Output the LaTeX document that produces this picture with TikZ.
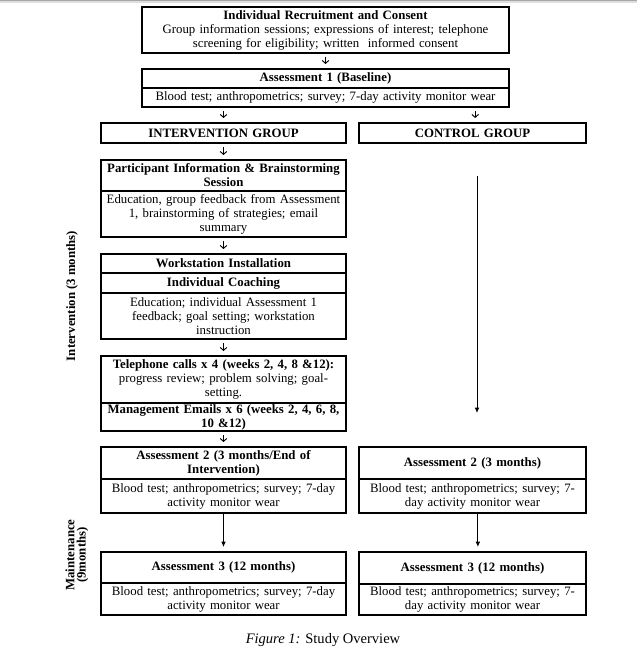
\documentclass[tikz,border=0pt]{standalone}
\usepackage{fontspec}
\setmainfont{Liberation Serif}
\usetikzlibrary{arrows.meta}
\newcommand\rbox[7]{\node[#6, minimum width={(#4-#2)*0.75pt}, minimum height={(#5-#3)*0.75pt}] (#1) at ({(#2+#4)/2},{(#3+#5)/2}) {#7};}
\begin{document}
\begin{tikzpicture}[x=0.75pt,y=-0.75pt,
  every node/.style={font=\fontsize{9.6}{10.5}\selectfont},
  rowbox/.style={draw, line width=1.5pt, inner sep=0pt, align=center},
  lcol/.style={rowbox, text width=182pt},
  rcol/.style={rowbox, text width=168pt},
  tcol/.style={rowbox, text width=272pt},
  smallarr/.style={-{Straight Barb[length=2.2pt,width=5pt]}, line width=0.7pt, shorten <=2.5pt, shorten >=3pt},
  solidarr/.style={-{Latex[length=4pt,width=3.5pt]}, line width=0.7pt, shorten >=3pt}]
\useasboundingbox (0,0) rectangle (637,655);
\fill[gray!70] (0,0) rectangle (637,1.5);
\fill[gray!25] (0,1.5) rectangle (637,3);

% top boxes
\rbox{rec}{142}{7}{509}{53}{tcol}{\textbf{Individual Recruitment and Consent}\\Group information sessions; expressions of interest; telephone\\screening for eligibility; written\ \ informed consent}
\rbox{a1t}{142}{69}{509}{88}{tcol}{\textbf{Assessment 1 (Baseline)}}
\rbox{a1b}{142}{88}{509}{107}{tcol}{Blood test; anthropometrics; survey; 7-day activity monitor wear}

% groups
\rbox{ig}{101}{123}{346}{143}{lcol}{\textbf{INTERVENTION GROUP}}
\rbox{cg}{359}{123}{586}{143}{rcol}{\textbf{CONTROL GROUP}}

% participant session
\rbox{p1}{101}{160}{346}{191}{lcol}{\textbf{Participant Information \& Brainstorming}\\\textbf{Session}}
\rbox{p2}{101}{191}{346}{237}{lcol}{Education, group feedback from Assessment\\1, brainstorming of strategies; email\\summary}

% workstation
\rbox{w1}{101}{254}{346}{273}{lcol}{\textbf{Workstation Installation}}
\rbox{w2}{101}{273}{346}{293}{lcol}{\textbf{Individual Coaching}}
\rbox{w3}{101}{293}{346}{339}{lcol}{Education; individual Assessment 1\\feedback; goal setting; workstation\\instruction}

% telephone / emails
\rbox{t1}{101}{356}{346}{403}{lcol}{\textbf{Telephone calls x 4 (weeks 2, 4, 8 \&12):}\\progress review; problem solving; goal-\\setting.}
\rbox{t2}{101}{403}{346}{431}{lcol}{\textbf{Management Emails x 6 (weeks 2, 4, 6, 8,}\\\textbf{10 \&12)}}

% assessment 2 & 3 left
\rbox{a2lt}{101}{447}{346}{479}{lcol}{\textbf{Assessment 2 (3 months/End of}\\\textbf{Intervention)}}
\rbox{a2lb}{101}{479}{346}{513}{lcol}{Blood test; anthropometrics; survey; 7-day\\activity monitor wear}
\rbox{a3lt}{101}{552}{346}{583}{lcol}{\textbf{Assessment 3 (12 months)}}
\rbox{a3lb}{101}{583}{346}{615}{lcol}{Blood test; anthropometrics; survey; 7-day\\activity monitor wear}

% assessment 2 & 3 right
\rbox{a2rt}{359}{447}{586}{479}{rcol}{\textbf{Assessment 2 (3 months)}}
\rbox{a2rb}{359}{479}{586}{513}{rcol}{Blood test; anthropometrics; survey; 7-\\day activity monitor wear}
\rbox{a3rt}{359}{552}{586}{584}{rcol}{\textbf{Assessment 3 (12 months)}}
\rbox{a3rb}{359}{584}{586}{615}{rcol}{Blood test; anthropometrics; survey; 7-\\day activity monitor wear}

% side labels
\node[rotate=90, font=\fontsize{9.6}{10.5}\selectfont\bfseries] (lint) at (72,296) {Intervention (3 months)};
\node[rotate=90, align=center, font=\fontsize{9.6}{8.5}\selectfont\bfseries] (lmain) at (77,555) {Maintenance\\(9months)};

% caption
\node[font=\fontsize{10.9}{12}\selectfont] (cap) at (323,640) {\textit{Figure 1:} Study Overview};

% small arrows
\draw[smallarr] (rec.south) -- (a1t.north);
\draw[smallarr] (a1b.south -| ig.north) -- (ig.north);
\draw[smallarr] ([xshift=2pt]a1b.south -| cg.north) -- ([xshift=2pt]cg.north);
\draw[smallarr] (ig.south) -- (p1.north);
\draw[smallarr] (p2.south) -- (w1.north);
\draw[smallarr] (w3.south) -- (t1.north);
\draw[smallarr] (t2.south) -- (a2lt.north);

% control line
\coordinate (c1) at (477,176);
\coordinate (c2) at (477,413);
\draw[solidarr, shorten >=0pt] (c1) -- (c2);

% solid arrows
\draw[solidarr] (a2lb.south) -- (a3lt.north);
\draw[solidarr] ([xshift=4pt]a2rb.south) -- ([xshift=4pt]a3rt.north);
\end{tikzpicture}
\end{document}
